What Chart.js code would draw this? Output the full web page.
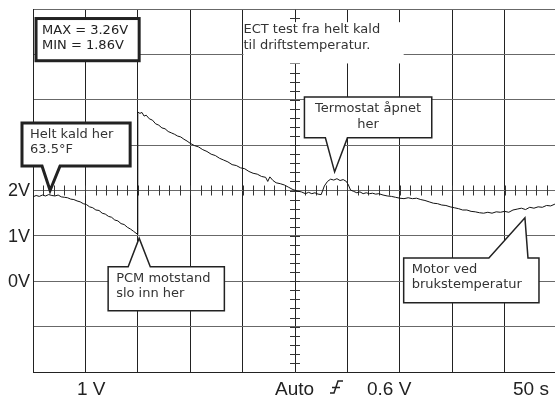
<!DOCTYPE html>
<html>
<head>
<meta charset="utf-8">
<script src="https://cdn.jsdelivr.net/npm/chart.js@4"></script>
<style>
  html, body { margin: 0; padding: 0; background: #fff; overflow: hidden; }
  canvas { display: block; }
</style>
</head>
<body>
<canvas id="scope" width="557" height="398"></canvas>
<script>
// ECT-signal, tid i sekund (50 s/rute) og spenning i volt (1 V/rute)
// kald motor til PCM slår inn motstanden
const tidKald = [0, 3, 6, 9, 12, 15, 18, 21, 24, 27, 30, 33, 36, 39, 42, 45, 48, 51, 54, 57,
  60, 63, 66, 69, 72, 75, 78, 81, 84, 87, 90, 93, 96, 100]
const voltKald = [1.86, 1.89, 1.87, 1.90, 1.88, 1.91, 1.89, 1.88, 1.90, 1.86, 1.85, 1.84, 1.81, 1.80, 1.77, 1.75, 1.71, 1.69, 1.64, 1.62,
  1.57, 1.56, 1.50, 1.48, 1.43, 1.41, 1.35, 1.33, 1.27, 1.25, 1.19, 1.15, 1.10, 1.03]

// etter at motstanden er koblet inn
const tidVarm = [100, 102, 104, 106, 108, 111, 114, 117, 120, 123, 126, 129, 132, 135, 138, 141, 144, 147, 150,
  154, 158, 162, 166, 170, 174, 178, 182, 186, 190, 194, 198, 202, 206, 210, 214, 218, 222, 224, 226, 229,
  232, 236, 240, 244, 248, 252, 256, 260, 263, 266, 269, 272, 275, 278, 281, 284, 287, 290, 293, 296, 299,
  301, 303, 306, 309, 312, 315, 318, 321, 324, 327, 330, 334, 338, 342, 346, 350, 354, 358, 362, 366, 370,
  374, 378, 382, 386, 390, 394, 398, 402, 406, 410, 414, 418, 422, 426, 430, 434, 438, 442, 446, 450, 454,
  458, 462, 466, 470, 474, 478, 482, 486, 490, 494, 498, 502]
const voltVarm = [3.73, 3.70, 3.72, 3.64, 3.66, 3.58, 3.55, 3.47, 3.44, 3.38, 3.36, 3.30, 3.27, 3.24, 3.20, 3.18, 3.13, 3.09, 3.04,
  2.99, 2.96, 2.90, 2.86, 2.80, 2.77, 2.71, 2.67, 2.63, 2.57, 2.55, 2.50, 2.48, 2.42, 2.38, 2.36, 2.31, 2.29, 2.20, 2.30, 2.22,
  2.17, 2.15, 2.12, 2.07, 2.02, 1.99, 1.97, 1.93, 1.96, 1.93, 1.95, 1.92, 1.91, 2.10, 2.20, 2.25, 2.23, 2.26, 2.22, 2.24, 2.20,
  2.12, 2.01, 1.98, 1.95, 1.97, 1.93, 1.95, 1.93, 1.94, 1.92, 1.93, 1.90, 1.88, 1.87, 1.85, 1.83, 1.82, 1.84, 1.82, 1.83, 1.80,
  1.78, 1.75, 1.72, 1.71, 1.68, 1.67, 1.64, 1.62, 1.60, 1.57, 1.57, 1.54, 1.53, 1.51, 1.50, 1.52, 1.50, 1.53, 1.52, 1.54, 1.52,
  1.57, 1.59, 1.61, 1.58, 1.63, 1.61, 1.64, 1.63, 1.67, 1.66, 1.70, 1.71]

const voltEtiketter = [2, 1, 0]
const maxMinTekst = ['MAX = 3.26V', 'MIN = 1.86V']
const tittelTekst = ['ECT test fra helt kald', 'til driftstemperatur.']
const bunnTekst = [['1 V', 77], ['Auto', 275], ['0.6 V', 367], ['50 s', 513]]

// merknader: boks (t1, v1) - (t2, v2), spiss mot kurven
const merknader = [
  { linjer: ['Helt kald her', '63.5°F'], boks: [-10.5, 3.49, 92.7, 2.54], side: 'bunn',
    fot: [8.6, 25.8], spiss: [16.3, 2.0], bredde: 3, tekstX: 8 },
  { linjer: ['Termostat åpnet', 'her'], boks: [259, 4.06, 380.5, 3.16], side: 'bunn',
    fot: [279, 300], spiss: [287.8, 2.41], bredde: 1.5, midt: true },
  { linjer: ['PCM motstand', 'slo inn her'], boks: [71.7, 0.32, 182.6, -0.65], side: 'topp',
    fot: [90.8, 111.9], spiss: [101.3, 0.95], bredde: 1.5, tekstX: 8 },
  { linjer: ['Motor ved', 'brukstemperatur'], boks: [353.7, 0.515, 482.8, -0.476], side: 'topp',
    fot: [435, 472.3], spiss: [469.4, 1.40], bredde: 1.5, tekstX: 8 }
]

const punkter = tidKald.map((t, i) => ({ x: t, y: voltKald[i] }))
  .concat(tidVarm.map((t, i) => ({ x: t, y: voltVarm[i] })))

const tekstFont = '13px "DejaVu Sans"'

function tegnMerknad(ctx, xs, ys, m) {
  const l = xs.getPixelForValue(m.boks[0])
  const t = ys.getPixelForValue(m.boks[1])
  const r = xs.getPixelForValue(m.boks[2])
  const b = ys.getPixelForValue(m.boks[3])
  const f1 = xs.getPixelForValue(m.fot[0])
  const f2 = xs.getPixelForValue(m.fot[1])
  const sx = xs.getPixelForValue(m.spiss[0])
  const sy = ys.getPixelForValue(m.spiss[1])
  ctx.beginPath()
  if (m.side === 'bunn') {
    ctx.moveTo(l, t); ctx.lineTo(r, t); ctx.lineTo(r, b)
    ctx.lineTo(f2, b); ctx.lineTo(sx, sy); ctx.lineTo(f1, b); ctx.lineTo(l, b)
  } else {
    ctx.moveTo(l, t); ctx.lineTo(f1, t); ctx.lineTo(sx, sy); ctx.lineTo(f2, t)
    ctx.lineTo(r, t); ctx.lineTo(r, b); ctx.lineTo(l, b)
  }
  ctx.closePath()
  ctx.fillStyle = '#fff'
  ctx.fill()
  ctx.lineWidth = m.bredde
  ctx.strokeStyle = '#222'
  ctx.lineJoin = 'miter'
  ctx.stroke()
  ctx.font = tekstFont
  ctx.fillStyle = '#333'
  ctx.textBaseline = 'alphabetic'
  ctx.textAlign = m.midt ? 'center' : 'left'
  const tx = m.midt ? (l + r) / 2 : l + m.tekstX
  m.linjer.forEach((s, i) => ctx.fillText(s, tx, t + 15 + i * 15.5))
}

const skopPlugin = {
  id: 'skop',
  beforeDatasetsDraw(chart) {
    // småstreker langs midtlinjene
    const ctx = chart.ctx
    const xs = chart.scales.x, ys = chart.scales.y
    const cy = ys.getPixelForValue(2), cx = xs.getPixelForValue(250)
    ctx.save()
    ctx.strokeStyle = '#333'
    ctx.lineWidth = 1
    ctx.beginPath()
    for (let t = 10; t < 510; t += 10) {
      const x = Math.round(xs.getPixelForValue(t)) + 0.5
      ctx.moveTo(x, cy - 5); ctx.lineTo(x, cy + 5)
    }
    for (let v = -1.8; v < 6; v += 0.2) {
      const y = Math.round(ys.getPixelForValue(v)) + 0.5
      ctx.moveTo(cx - 5, y); ctx.lineTo(cx + 5, y)
    }
    ctx.stroke()
    ctx.restore()
  },
  afterDraw(chart) {
    const ctx = chart.ctx
    const xs = chart.scales.x, ys = chart.scales.y
    ctx.save()

    // tittel med hvit bakgrunn over rutenettet
    const tl = xs.getPixelForValue(200.8), tt = ys.getPixelForValue(5.71)
    const tr = xs.getPixelForValue(353.7), tb = ys.getPixelForValue(4.80)
    ctx.fillStyle = '#fff'
    ctx.fillRect(tl, tt, tr - tl, tb - tt)
    ctx.font = tekstFont
    ctx.fillStyle = '#333'
    ctx.textAlign = 'left'
    tittelTekst.forEach((s, i) => ctx.fillText(s, tl, tt + 11 + i * 16))

    // MAX / MIN
    const ml = xs.getPixelForValue(2.9), mt = ys.getPixelForValue(5.79)
    const mr = xs.getPixelForValue(101.3), mb = ys.getPixelForValue(4.86)
    ctx.fillStyle = '#fff'
    ctx.fillRect(ml, mt, mr - ml, mb - mt)
    ctx.lineWidth = 3
    ctx.strokeStyle = '#222'
    ctx.strokeRect(ml, mt, mr - ml, mb - mt)
    ctx.fillStyle = '#222'
    maxMinTekst.forEach((s, i) => ctx.fillText(s, ml + 6, mt + 15 + i * 15))

    merknader.forEach(m => tegnMerknad(ctx, xs, ys, m))

    // voltetiketter til venstre
    ctx.font = '18px "Liberation Sans"'
    ctx.fillStyle = '#222'
    ctx.textAlign = 'right'
    ctx.textBaseline = 'middle'
    voltEtiketter.forEach(v => ctx.fillText(v + 'V', 30, ys.getPixelForValue(v) + 1))

    // innstillinger under skjermen
    ctx.font = '19px "Liberation Sans"'
    ctx.textAlign = 'left'
    ctx.textBaseline = 'alphabetic'
    bunnTekst.forEach(([s, x]) => ctx.fillText(s, x, 395))

    // trigger-symbol (stigende flanke)
    ctx.lineWidth = 1.5
    ctx.beginPath()
    ctx.moveTo(330, 393); ctx.lineTo(334, 393); ctx.lineTo(338, 381); ctx.lineTo(343, 381)
    ctx.moveTo(332, 387.5); ctx.lineTo(340, 387.5)
    ctx.stroke()
    ctx.restore()
  }
}

new Chart(document.getElementById('scope'), {
  type: 'line',
  data: {
    datasets: [{
      data: punkter,
      borderColor: '#111',
      borderWidth: 1,
      pointRadius: 0,
      tension: 0,
      fill: false
    }]
  },
  options: {
    responsive: false,
    animation: false,
    devicePixelRatio: 1,
    layout: { padding: { left: 33, top: 9, right: 0, bottom: 26 } },
    plugins: { legend: { display: false }, tooltip: { enabled: false } },
    scales: {
      x: {
        type: 'linear', min: 0, max: 500,
        ticks: { display: false, stepSize: 50 },
        grid: { color: '#222', drawTicks: false },
        border: { color: '#222' }
      },
      y: {
        min: -2, max: 6,
        ticks: { display: false, stepSize: 1 },
        grid: { color: '#686868', drawTicks: false },
        border: { color: '#222' }
      }
    }
  },
  plugins: [skopPlugin]
})
</script>
</body>
</html>
